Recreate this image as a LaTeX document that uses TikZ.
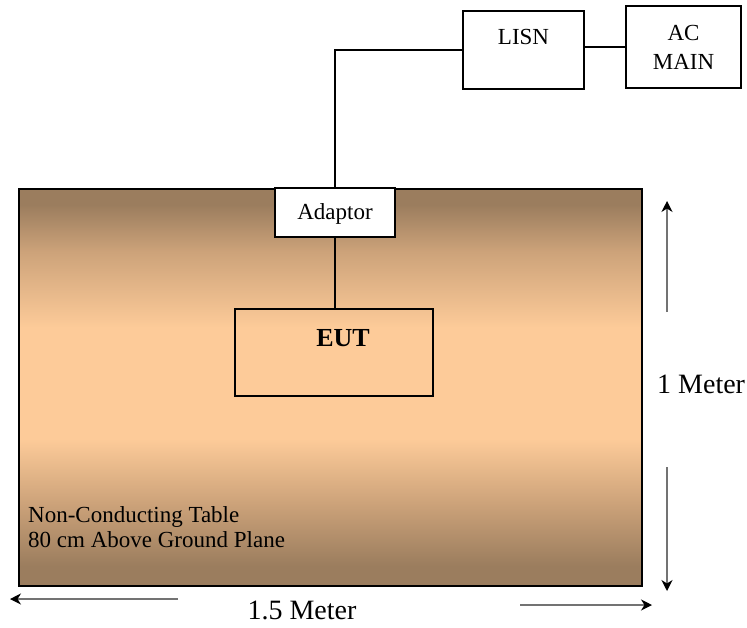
\documentclass[tikz,border=0pt]{standalone}
\usepackage{fontspec}
\setmainfont{Liberation Serif}
\usetikzlibrary{arrows.meta,calc}
\definecolor{tdark}{RGB}{155,125,94}
\definecolor{tmid}{RGB}{205,163,122}
\definecolor{tlight}{RGB}{253,203,153}
\pgfdeclareverticalshading{tableshade}{100bp}{color(0bp)=(tdark); color(27.5bp)=(tdark); color(35.5bp)=(tmid); color(43.5bp)=(tlight); color(57.5bp)=(tlight); color(67bp)=(tmid); color(73bp)=(tdark); color(100bp)=(tdark)}
\tikzset{
  box/.style={draw=black, line width=1.5pt, inner sep=0pt},
  wbox/.style={box, fill=white},
  wire/.style={draw=black, line width=1.6pt},
  dimarrow/.style={draw=black!55, line width=1.2pt, -{Stealth[length=11pt,width=11pt,inset=3.5pt,black]}},
  lbl/.style={font=\fontsize{23}{27}\selectfont, inner sep=0pt},
}
\begin{document}
\begin{tikzpicture}[x=1pt,y=-1pt]
\useasboundingbox (0,0) rectangle (747,627);
% table
\node[box, shading=tableshade, minimum width=623pt, minimum height=397pt, anchor=north west] (table) at (18,188) {};
% boxes
\node[wbox, minimum width=121pt, minimum height=78pt] (lisn) at (523.5,50) {};
\node[lbl] (lisntext) at (523.5,37) {LISN};
\node[wbox, minimum width=115pt, minimum height=82pt] (ac) at (683.5,47) {};
\node[lbl, align=center, font=\fontsize{23}{29}\selectfont] (actext) at (683.5,47.5) {AC\\MAIN};
\node[wbox, minimum width=120pt, minimum height=49pt] (adaptor) at (335,212.5) {};
\node[lbl] (adaptortext) at (335,214) {Adaptor};
\node[box, minimum width=198pt, minimum height=87pt] (eut) at (334,352.5) {};
\node[lbl, font=\fontsize{26}{30}\selectfont\bfseries] (euttext) at (343,338) {EUT};
% wires
\draw[wire] (adaptor.north) |- (lisn.west);
\draw[wire] (lisn.east |- ac.west) -- (ac.west);
\draw[wire] (adaptor.south) -- (adaptor.south |- eut.north);
% table text
\node[lbl, anchor=base west] (t1) at (28,522) {Non-Conducting Table};
\node[lbl, anchor=base west] (t2) at (28,547) {80 cm Above Ground Plane};
% dimension arrows
\coordinate (v1a) at (667,312);
\coordinate (v1b) at (667,201);
\coordinate (v2a) at (667,467);
\coordinate (v2b) at (667,591);
\coordinate (h1a) at (178,599);
\coordinate (h1b) at (10,599);
\coordinate (h2a) at (520,605);
\coordinate (h2b) at (652,605);
\draw[dimarrow] (v1a) -- (v1b);
\draw[dimarrow] (v2a) -- (v2b);
\draw[dimarrow] (h1a) -- (h1b);
\draw[dimarrow] (h2a) -- (h2b);
\node[lbl, font=\fontsize{28}{32}\selectfont, anchor=west] (onem) at (657,384) {1 Meter};
\node[lbl, font=\fontsize{28}{32}\selectfont] (onefive) at (302,610) {1.5 Meter};
\end{tikzpicture}
\end{document}
